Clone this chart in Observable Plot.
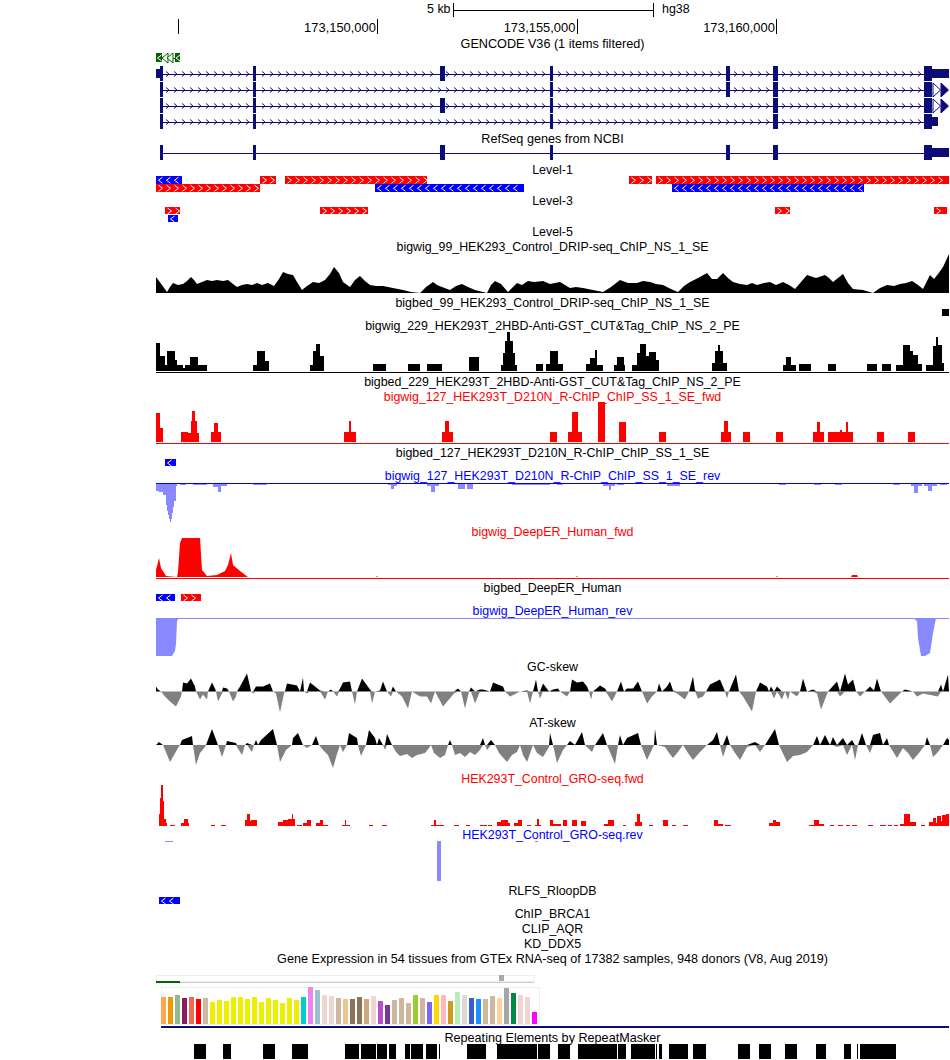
<!DOCTYPE html>
<html><head><meta charset="utf-8">
<style>html,body{margin:0;padding:0;background:#fff}svg{display:block}</style>
<script src="https://cdn.jsdelivr.net/npm/d3@7"></script>
<script src="https://cdn.jsdelivr.net/npm/@observablehq/plot@0.6"></script>
</head><body><div id="chart"></div>
<script>
// Browser window: one column = one 25.06 bp bin.
const binBp = 25.06, windowStart = 173144454;
const pos = c => windowStart + c * binBp;

// Ruler
const rulerTicks = [173145000, 173150000, 173155000, 173160000];
const rulerLabels = ["", "173,150,000", "173,155,000", "173,160,000"];
const scaleBar = [173151897, 173156897];

// Genes: [start, end] in bins
const exons = [[4,7],[97,100],[284,289],[394,397],[570,574],[617,622],[768,776]];
const rowExons = [
  [0,1,2,3,4,5,6],
  [0,1,3,4,5,6],
  [0,1,2,3,5,6],
  [0,1,3,5,6]
];
const rowUtr = [[[0,4],[776,793]], [], [], [[776,782]]];
const endArrows = [780, 788];
const refseqUtr = [[776,793]];

// Feature tracks: [start, end, strand]
const level1RowA = [[0,26,"-"],[104,120,"+"],[129,271,"+"],[473,496,"+"],[500,793,"+"]];
const level1RowB = [[0,104,"+"],[219,368,"-"],[516,708,"-"]];
const level3RowA = [[9,24,"+"],[164,212,"+"],[619,634,"+"],[778,791,"+"]];
const level3RowB = [[12,22,"-"]];
const bigbed99 = [[786,793]];
const bigbed127 = [[9,20,"-"]];
const deepErBed = [[0,19,"-"],[25,45,"+"]];
const rlfs = [[3,24,"-"]];

// Signals
const dripSignal = [[0,16],[3,12],[6,8],[11,1],[14,6],[17,10],[22,8],[27,9],[31,12],[35,16],[38,13],[41,9],[46,11],[51,13],[56,12],[61,13],[67,12],[72,13],[77,9],[81,6],[86,8],[91,9],[96,8],[101,10],[106,8],[112,10],[118,7],[123,14],[127,21],[132,19],[137,18],[141,11],[146,3],[151,7],[157,11],[163,10],[169,13],[174,19],[178,26],[183,20],[187,11],[194,6],[199,13],[204,17],[209,12],[214,8],[220,7],[227,7],[237,5],[247,3],[255,1],[264,0],[270,6],[277,11],[281,8],[286,6],[294,3],[300,7],[306,9],[312,6],[319,3],[331,0],[335,8],[339,12],[345,9],[352,1],[357,6],[361,10],[366,8],[372,12],[378,11],[387,12],[394,9],[399,10],[404,11],[409,8],[414,5],[420,6],[427,5],[437,3],[447,1],[455,6],[464,13],[472,10],[481,10],[487,12],[494,11],[500,9],[507,8],[515,4],[522,1],[528,7],[534,11],[542,15],[551,20],[556,14],[561,14],[567,20],[572,15],[577,11],[584,9],[591,8],[596,10],[601,8],[608,10],[614,11],[620,8],[627,11],[633,8],[639,4],[645,11],[651,18],[660,15],[669,18],[673,15],[677,11],[682,15],[687,19],[692,10],[697,4],[707,3],[717,0],[724,5],[731,8],[738,7],[744,9],[750,10],[756,12],[762,8],[767,4],[771,12],[774,18],[778,14],[782,19],[787,26],[793,39]];
const cutTag = [[0,4,28],[4,9,15],[9,11,6],[11,19,20],[19,21,11],[21,27,6],[27,29,3],[29,34,6],[34,42,14],[42,51,6],[97,101,6],[101,109,20],[109,113,10],[154,157,6],[157,160,20],[160,164,27],[164,168,15],[217,230,7],[252,264,7],[271,286,7],[313,323,14],[345,347,6],[347,349,18],[349,351,30],[351,354,39],[354,357,30],[357,359,18],[359,361,6],[380,387,7],[390,394,7],[394,402,20],[402,407,7],[430,434,7],[434,439,13],[439,441,21],[441,447,6],[458,461,6],[461,468,14],[468,469,6],[476,481,6],[481,484,18],[484,490,27],[490,493,15],[493,500,19],[500,503,11],[556,559,8],[559,562,20],[562,564,26],[564,567,20],[567,571,8],[627,630,6],[630,635,14],[635,640,6],[643,655,7],[672,680,7],[711,721,7],[726,735,7],[740,747,6],[747,754,26],[754,757,20],[757,762,16],[762,766,7],[770,777,6],[777,780,25],[780,782,34],[782,786,26],[786,788,8]];
const rchipFwd = [[0,4,29],[4,7,14],[25,32,10],[32,35,9],[35,36,21],[36,39,31],[39,41,21],[41,43,9],[55,58,10],[58,62,19],[62,65,10],[188,193,10],[193,195,21],[195,200,10],[286,289,10],[289,293,21],[293,297,10],[394,401,10],[412,416,10],[416,422,30],[422,426,10],[442,449,40],[463,470,20],[503,510,10],[565,568,10],[568,572,21],[572,575,10],[587,594,10],[620,627,10],[657,661,10],[661,664,20],[664,668,10],[672,684,10],[684,686,12],[686,690,10],[690,692,20],[692,697,10],[721,728,10],[752,759,10]];
const rchipRev = [[0,3,8],[3,7,9],[7,10,12],[10,11,22],[11,12,28],[12,13,32],[13,14,36],[14,15,39],[15,16,36],[16,17,30],[17,18,24],[18,20,18],[20,21,3],[24,30,2],[37,44,2],[44,51,2],[57,62,4],[62,65,9],[65,71,3],[97,111,2],[232,235,2],[235,238,6],[238,241,3],[271,275,3],[275,279,9],[279,283,3],[302,309,6],[311,317,6],[356,394,2],[401,407,2],[447,453,3],[453,455,7],[455,459,3],[461,468,2],[511,524,3],[623,630,2],[658,665,2],[679,686,2],[737,744,2],[755,758,3],[758,762,10],[762,766,3],[768,772,3],[772,776,8],[776,781,3],[784,791,2]];
const deepErFwd = [[0,7],[3,19],[5,9],[10,1],[21,0],[22,5],[24,34],[26,39],[44,39],[46,7],[51,1],[61,2],[69,6],[72,12],[75,24],[77,12],[84,6],[92,0],[220,0],[221,1],[222,0],[420,0],[421,1],[422,0],[620,0],[621,1],[622,0],[695,0],[696,2],[701,2],[702,0],[793,0]];
const deepErRev = [[0,38],[16,38],[19,33],[20,26],[21,3],[23,0],[757,0],[761,3],[762,20],[765,38],[769,38],[774,35],[777,15],[780,0],[793,0]];
const gcSkew = [[0,5],[2,2],[5,0],[9,-5],[14,-10],[20,-15],[25,-5],[26,0],[27,9],[31,8],[35,13],[39,5],[40,0],[44,-8],[47,-3],[51,-8],[52,0],[56,9],[59,3],[60,0],[62,-10],[66,-2],[67,4],[71,3],[73,0],[77,-10],[80,-5],[81,0],[84,5],[91,18],[94,5],[95,0],[97,-2],[100,5],[107,5],[114,8],[117,0],[120,-2],[124,-21],[128,-2],[129,0],[131,8],[141,6],[144,0],[147,14],[148,0],[151,-2],[154,9],[164,1],[169,-8],[172,0],[175,2],[177,0],[181,-5],[183,1],[187,9],[194,10],[196,0],[199,-13],[201,0],[206,13],[214,2],[216,-12],[219,0],[224,1],[227,10],[231,0],[235,-5],[237,5],[240,0],[246,-5],[252,-17],[256,0],[264,-5],[271,-5],[275,-12],[279,0],[287,-15],[298,-2],[302,3],[305,0],[309,-17],[313,0],[315,4],[319,-12],[324,2],[327,2],[334,0],[337,9],[347,5],[349,0],[354,-5],[364,0],[371,1],[374,-12],[377,0],[380,12],[382,0],[384,-7],[387,8],[393,0],[397,2],[402,3],[404,0],[411,-5],[414,0],[416,12],[421,9],[427,10],[431,5],[433,0],[435,-8],[437,0],[444,6],[449,3],[451,-2],[456,-10],[461,0],[465,10],[468,0],[471,3],[477,3],[482,10],[486,0],[491,-12],[496,-5],[501,0],[503,8],[506,0],[511,5],[514,10],[517,1],[521,-2],[529,-8],[533,0],[537,15],[539,1],[542,-7],[547,-5],[550,0],[554,7],[564,12],[569,0],[571,-7],[573,0],[580,17],[583,0],[587,-5],[596,-20],[600,0],[604,9],[611,5],[613,0],[615,5],[618,-7],[621,5],[626,-8],[629,0],[632,-8],[634,0],[641,-5],[644,0],[647,13],[651,0],[657,2],[661,-2],[665,-18],[672,0],[681,10],[684,-5],[689,18],[692,7],[697,12],[700,0],[704,-5],[709,0],[714,5],[718,1],[721,13],[725,0],[734,-12],[746,0],[749,2],[757,0],[761,-5],[767,-2],[782,-5],[785,7],[787,0],[792,17],[793,0]];
const atSkew = [[0,0],[3,3],[7,0],[14,-17],[22,-3],[24,0],[26,5],[36,9],[37,0],[40,-20],[44,-8],[49,-2],[50,0],[56,16],[62,0],[66,-12],[70,0],[71,4],[80,2],[81,-2],[86,-10],[89,0],[91,2],[96,-7],[98,0],[100,5],[102,0],[105,5],[117,16],[121,0],[124,-17],[130,-5],[136,0],[137,7],[142,12],[147,0],[151,-3],[156,0],[160,9],[163,0],[167,-5],[172,-10],[177,-23],[181,-9],[184,0],[187,-7],[191,0],[193,12],[201,7],[202,0],[205,-11],[210,0],[213,15],[219,7],[221,0],[223,7],[227,0],[229,-5],[231,11],[236,0],[240,-7],[244,-11],[251,-9],[256,-13],[261,-10],[269,-8],[273,-3],[275,0],[278,-8],[284,-13],[289,-10],[292,0],[294,5],[296,0],[299,-10],[304,-8],[309,-12],[314,-7],[319,-10],[324,-5],[327,7],[329,0],[331,-5],[335,5],[339,0],[343,-8],[351,-17],[356,-10],[361,-7],[364,0],[367,-10],[371,-17],[377,0],[381,-8],[387,-12],[393,-2],[394,12],[397,0],[401,-18],[407,-5],[411,0],[414,4],[419,0],[426,13],[429,0],[436,-7],[439,0],[447,12],[451,0],[459,-19],[462,0],[464,10],[467,0],[471,7],[482,12],[485,0],[491,-15],[498,0],[499,16],[501,0],[509,-2],[513,-8],[517,-13],[522,-7],[527,0],[532,-8],[537,-15],[544,-7],[551,0],[557,5],[561,13],[564,0],[567,-12],[571,10],[574,0],[579,-8],[584,-15],[591,-2],[599,3],[604,-7],[609,0],[619,16],[623,0],[631,-17],[637,-11],[644,-10],[651,-7],[657,0],[661,9],[664,0],[669,10],[674,0],[677,8],[681,-2],[687,7],[691,-10],[696,5],[699,-15],[702,0],[706,12],[710,0],[714,-8],[717,10],[724,12],[727,0],[731,7],[733,0],[741,-13],[747,-3],[752,-8],[757,-15],[763,-8],[769,0],[771,8],[774,0],[777,-12],[782,-7],[787,0],[791,7],[793,5]];
const groFwd = [[3,4,12],[4,5,28],[5,7,41],[7,8,25],[8,10,7],[10,11,3],[14,19,1],[25,28,3],[28,32,7],[32,33,3],[55,59,1],[65,70,1],[89,91,6],[91,94,12],[94,95,5],[95,101,6],[122,127,4],[127,132,6],[132,136,7],[136,137,12],[137,139,7],[141,146,1],[147,151,3],[151,155,6],[160,164,3],[164,167,6],[167,172,1],[186,189,1],[189,190,6],[190,194,1],[213,217,1],[226,231,1],[275,278,1],[278,280,6],[280,288,1],[298,303,1],[310,314,1],[324,331,1],[332,336,1],[341,345,4],[345,352,6],[352,354,3],[358,362,3],[362,366,6],[371,375,1],[379,381,1],[381,383,7],[383,385,1],[394,397,6],[397,405,2],[407,411,6],[416,421,6],[425,430,5],[448,452,2],[452,458,6],[467,470,1],[479,481,4],[481,484,12],[484,486,4],[493,497,1],[507,512,6],[516,520,1],[527,532,1],[558,562,6],[562,567,2],[569,575,1],[613,617,3],[617,620,6],[620,624,4],[653,658,1],[658,663,6],[663,668,2],[674,678,1],[682,687,1],[690,694,1],[696,701,1],[712,717,1],[724,730,1],[732,736,1],[738,742,1],[744,748,2],[748,754,12],[754,760,4],[765,769,1],[773,777,4],[777,780,8],[780,781,3],[781,785,10],[785,786,5],[786,790,11],[790,793,12]];
const groRev = [[9,17,1],[281,285,40],[379,382,1]];

// GTEx bars, one per tissue
const gtexValues = [27,27,29,26,27,25,26,22,24,23,27,27,25,27,22,26,24,21,26,24,27,37,34,29,28,26,25,25,27,25,28,23,19,24,26,21,29,26,22,29,29,23,32,29,26,25,25,28,26,36,31,29,27,12];
const gtexColors = ["#FFA54F","#EE9A00","#8FBC8F","#8B1C62","#EE6A50","#FF0000","#CDB79E","#EEEE00","#EEEE00","#EEEE00","#EEEE00","#EEEE00","#EEEE00","#EEEE00","#EEEE00","#EEEE00","#EEEE00","#EEEE00","#EEEE00","#EEEE00","#00CDCD","#EE82EE","#9AC0CD","#EED5D2","#EED5D2","#CDB79E","#EEC591","#8B7355","#8B7355","#CDAA7D","#EED5D2","#B452CD","#7A378B","#CDB79E","#CDB79E","#CDB79E","#9ACD32","#CDB79E","#7A67EE","#FFD700","#FFB6C1","#CD9B1D","#B4EEB4","#D9D9D9","#3A5FCD","#1E90FF","#CDB79E","#CDB79E","#FFD39B","#A6A6A6","#008B45","#EED5D2","#EED5D2","#FF00FF"];

// RepeatMasker
const repeats = [[38,50],[67,75],[107,119],[136,152],[189,203],[205,220],[221,231],[233,240],[249,254],[255,267],[270,281],[283,284],[311,330],[341,381],[382,394],[402,414],[422,461],[462,470],[475,499],[500,501],[503,506],[513,532],[537,550],[582,594],[603,615],[629,641],[660,670],[688,695],[701,702],[704,740]];

// Track titles
const titleText = ["GENCODE V36 (1 items filtered)","RefSeq genes from NCBI","Level-1","Level-3","Level-5","bigwig_99_HEK293_Control_DRIP-seq_ChIP_NS_1_SE","bigbed_99_HEK293_Control_DRIP-seq_ChIP_NS_1_SE","bigwig_229_HEK293T_2HBD-Anti-GST_CUT&Tag_ChIP_NS_2_PE","bigbed_229_HEK293T_2HBD-Anti-GST_CUT&Tag_ChIP_NS_2_PE","bigwig_127_HEK293T_D210N_R-ChIP_ChIP_SS_1_SE_fwd","bigbed_127_HEK293T_D210N_R-ChIP_ChIP_SS_1_SE","bigwig_127_HEK293T_D210N_R-ChIP_ChIP_SS_1_SE_rev","bigwig_DeepER_Human_fwd","bigbed_DeepER_Human","bigwig_DeepER_Human_rev","GC-skew","AT-skew","HEK293T_Control_GRO-seq.fwd","HEK293T_Control_GRO-seq.rev","RLFS_RloopDB","ChIP_BRCA1","CLIP_AQR","KD_DDX5","Gene Expression in 54 tissues from GTEx RNA-seq of 17382 samples, 948 donors (V8, Aug 2019)","Repeating Elements by RepeatMasker"];
const titleRow = [43,138.5,169.5,200.5,231.5,246.5,302.5,325.5,381.5,396.5,452.5,475.5,531.5,587.5,610.5,666.5,722.5,778.5,834.5,890.5,913.5,928.5,943.5,958.5,1037.5];
const titleColor = ["k","k","k","k","k","k","k","k","k","r","k","b","r","k","b","k","k","r","b","k","k","k","k","k","k"];

// ----- styling and layout -----
const NAVY="#0c0c78", GREEN="#006400", RED="#ff0000", BLUE="#0000ff", LBLUE="#8888ff", GREY="#808080";
const inkOf={k:"#000",r:RED,b:BLUE};
const FONT="Liberation Sans", FS=12.4, FS_WIDE=12.63, FS_TICK=12.9;
const crisp={shapeRendering:"crispEdges"};
const chevR={draw(c){c.moveTo(-1.5,-2.5);c.lineTo(1.5,0);c.lineTo(-1.5,2.5);}};
const bedR={draw(c){c.moveTo(-2,-3);c.lineTo(2,0);c.lineTo(-2,3);}};
const bedL={draw(c){c.moveTo(2,-3);c.lineTo(-2,0);c.lineTo(2,3);}};
const triR={draw(c){c.moveTo(-3.5,-7);c.lineTo(4,0);c.lineTo(-3.5,7);c.closePath();}};
const triL={draw(c){c.moveTo(3,-5);c.lineTo(-3,0);c.lineTo(3,5);c.closePath();}};

const blocks=(d,top,h,fill)=>Plot.rect(d,{x1:s=>pos(s[0]),x2:s=>pos(s[1]),y1:()=>top,y2:()=>top+h,fill,...crisp});
const bedTrack=(d,top,h,fillFn)=>{
  const marks=[blocks(d,top,h,fillFn)];
  for(const dir of ["+","-"]){
    const pts=d.filter(s=>s[2]===dir).flatMap(s=>d3.range(s[0]+4,s[1]-1,8));
    if(pts.length) marks.push(Plot.dot(pts,{x:c=>pos(c),y:()=>top+h/2,symbol:dir==="+"?bedR:bedL,r:3,fill:"none",stroke:"#fff",strokeWidth:1}));
  }
  return marks;
};
const strand=s=>s[2]==="+"?RED:BLUE;
const bars=(d,base,fill,dir=1)=>Plot.rect(d,{x1:s=>pos(s[0]),x2:s=>pos(s[1]),y1:()=>base,y2:s=>base-dir*s[2],fill,...crisp});
const area=(d,base,fill,dir=1)=>Plot.areaY(d,{x:s=>pos(s[0]),y1:()=>base,y2:s=>base-dir*s[1],fill,curve:"linear"});
const hline=(base,stroke,c0=0,c1=793,sw=1)=>Plot.ruleY([base],{x1:()=>pos(c0),x2:()=>pos(c1),stroke,strokeWidth:sw,...crisp});
const skew=(d,base)=>[
  Plot.areaY(d,{x:s=>pos(s[0]),y1:()=>base,y2:s=>base-Math.max(s[1],0),fill:"#000"}),
  Plot.areaY(d,{x:s=>pos(s[0]),y1:()=>base,y2:s=>base-Math.min(s[1],0),fill:GREY})
];

const rowY=[73.5,89.5,105.5,121.5];
const geneMarks=rowExons.flatMap((ids,r)=>{
  const y=rowY[r];
  const chev=d3.range(11,768,8).filter(c=>!ids.some(i=>c>=exons[i][0]-1&&c<=exons[i][1]+1));
  return [
    hline(y,NAVY,4,768),
    Plot.dot(chev,{x:c=>pos(c),y:()=>y,symbol:chevR,r:3,fill:"none",stroke:NAVY,strokeWidth:1}),
    blocks(ids.map(i=>exons[i]),y-7.5,15,NAVY),
    ...(rowUtr[r].length?[blocks(rowUtr[r],y-4.5,9,NAVY)]:[]),
    ...((r===1||r===2)?[Plot.dot(endArrows,{x:c=>pos(c),y:()=>y,symbol:triR,r:3,fill:(c,i)=>i?NAVY:"#fff",stroke:NAVY,strokeWidth:1})]:[])
  ];
});

const marks=[
  // ruler
  Plot.ruleY([9.5],{x1:()=>scaleBar[0],x2:()=>scaleBar[1],stroke:"#000",...crisp}),
  Plot.ruleX(scaleBar,{y1:()=>3,y2:()=>17,stroke:"#000",...crisp}),
  Plot.text(["5 kb"],{x:()=>scaleBar[0],y:()=>9,text:d=>d,textAnchor:"end",dx:-3,fontFamily:FONT,fontSize:FS}),
  Plot.text(["hg38"],{x:()=>scaleBar[1],y:()=>9,text:d=>d,textAnchor:"start",dx:9,fontFamily:FONT,fontSize:FS}),
  Plot.ruleX(rulerTicks,{y1:()=>19,y2:()=>34,stroke:"#000",...crisp}),
  Plot.text(rulerTicks,{x:d=>d,y:()=>27,text:(d,i)=>rulerLabels[i],textAnchor:"end",dx:-2,fontFamily:FONT,fontSize:FS_TICK}),
  // titles
  Plot.text(titleText,{x:()=>pos(396),y:(d,i)=>titleRow[i],text:d=>d,fill:(d,i)=>inkOf[titleColor[i]],fontFamily:FONT,fontSize:d=>d.includes(" ")?FS_WIDE:FS}),
  // green gene
  hline(57.5,GREEN,6,24),
  Plot.dot([8.5,13.5],{x:c=>pos(c),y:()=>57.5,symbol:triL,r:3,fill:"#fff",stroke:GREEN,strokeWidth:1}),
  blocks([[0,6],[19,24]],53,9,GREEN),
  Plot.dot([3,21.5],{x:c=>pos(c),y:()=>57.5,symbol:bedL,r:3,fill:"none",stroke:"#fff",strokeWidth:1}),
  ...geneMarks,
  // RefSeq
  hline(152.5,NAVY,4,768),
  blocks(exons,145,15,NAVY),
  blocks(refseqUtr,148,9,NAVY),
  // levels
  ...bedTrack(level1RowA,176,7.5,strand),
  ...bedTrack(level1RowB,184,7.5,strand),
  ...bedTrack(level3RowA,207,7,strand),
  ...bedTrack(level3RowB,215,7,strand),
  // DRIP
  area(dripSignal,293,"#000"),
  blocks(bigbed99,309,7,"#000"),
  // CUT&Tag
  bars(cutTag,371,"#000"),
  hline(371.5,"#000"),
  // R-ChIP
  bars(rchipFwd,442,RED),
  hline(442.5,RED),
  ...bedTrack(bigbed127,459,7,strand),
  bars(rchipRev,483,LBLUE,-1),
  hline(482.5,BLUE),
  // DeepER
  area(deepErFwd,577,RED),
  hline(577.5,RED),
  ...bedTrack(deepErBed,594,7,strand),
  area(deepErRev,618,LBLUE,-1),
  hline(617.5,LBLUE),
  // skews
  ...skew(gcSkew,691.5),
  ...skew(atSkew,745),
  // GRO
  bars(groFwd,826,RED),
  bars(groRev,841,LBLUE,-1),
  ...bedTrack(rlfs,897,7,strand),
  // GTEx
  Plot.rect([0],{x1:()=>pos(0),x2:()=>pos(378),y1:()=>975.5,y2:()=>981.5,fill:"none",stroke:"#eeeeee",...crisp}),
  hline(981.5,"#cccccc",0,378),
  blocks([[0,24]],981,2,GREEN),
  blocks([[343,348]],975,6,"#aaaaaa"),
  Plot.rect([0],{x1:()=>pos(5),x2:()=>pos(383),y1:()=>987.5,y2:()=>1024.5,fill:"none",stroke:"#eeeeee",...crisp}),
  Plot.rect(gtexValues,{x1:(v,i)=>pos(5+7*i),x2:(v,i)=>pos(10+7*i),y1:()=>1024,y2:v=>1024-v,fill:(v,i)=>gtexColors[i],...crisp}),
  hline(1026,NAVY,5,793,2),
  // Repeats
  blocks(repeats,1044,15,"#000")
];

const chart=Plot.plot({
  width:950,height:1060,margin:0,
  style:{background:"#fff",fontFamily:FONT},
  x:{domain:[pos(-156),pos(794)],range:[0,950],axis:null},
  y:{domain:[0,1060],range:[0,1060],axis:null},
  color:{type:"identity"},
  marks
});
document.getElementById("chart").appendChild(chart);
</script></body></html>
